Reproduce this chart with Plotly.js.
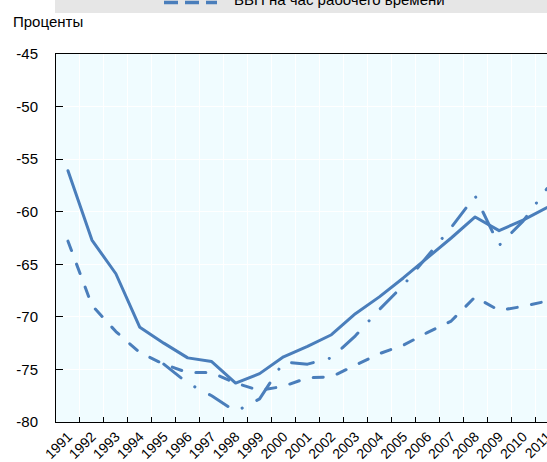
<!DOCTYPE html>
<html>
<head>
<meta charset="utf-8">
<script src="https://cdn.plot.ly/plotly-3.0.1.min.js"></script>
<style>
html,body{margin:0;padding:0;background:#fff;}
#chart{width:547px;height:462px;}
.scatterlayer .js-line{stroke-linecap:round;stroke-linejoin:round;}
</style>
</head>
<body>
<div id="chart"></div>
<script>
const years = ["1991","1992","1993","1994","1995","1996","1997","1998","1999","2000","2001","2002","2003","2004","2005","2006","2007","2008","2009","2010","2011"];
const solidSeries = [-56.1,-62.7,-65.9,-71.0,-72.5,-73.9,-74.25,-76.3,-75.4,-73.8,-72.8,-71.7,-69.7,-68.1,-66.3,-64.4,-62.5,-60.5,-61.8,-60.8,-59.6];
const gdpPerHour = [-62.8,-68.9,-71.4,-73.4,-74.5,-75.3,-75.3,-76.3,-77.0,-76.6,-75.8,-75.7,-74.6,-73.5,-72.7,-71.5,-70.4,-68.1,-69.4,-69.0,-68.5];
const dashDotSeries = [null,null,null,null,-74.5,-76.3,-77.5,-79.0,-77.8,-74.3,-74.5,-73.9,-71.8,-69.3,-67.0,-64.3,-61.5,-58.5,-63.2,-60.9,-57.8];
const legendLabel = "ВВП на час рабочего времени";
const yAxisLabel = "Проценты";
const yTicks = [-80,-75,-70,-65,-60,-55,-50,-45];

const color = "#4a7ebb";
const font = "'Liberation Sans', Arial, sans-serif";

const traces = [
  {x: years, y: solidSeries, type: "scatter", mode: "lines", line: {color: color, width: 3}, showlegend: false},
  {x: years, y: gdpPerHour, type: "scatter", mode: "lines", name: legendLabel, line: {color: color, width: 3, dash: "10px,14.5px"}, showlegend: false},
  {x: years, y: dashDotSeries, type: "scatter", mode: "lines", line: {color: color, width: 3, dash: "22px,16.5px,0.1px,16.5px"}, showlegend: false, connectgaps: false}
];

// plot area: x 56..547 (491px), y 54..422 (368px)
const px = v => (v - 56) / 491;
const py = v => (422 - v) / 368;

const layout = {
  width: 547, height: 462,
  margin: {l: 56, r: 0, t: 54, b: 40, pad: 0},
  paper_bgcolor: "#ffffff",
  plot_bgcolor: "#f0fcff",
  font: {family: font, size: 15, color: "#000"},
  showlegend: false,
  xaxis: {
    type: "category",
    range: [-0.5, 20.0],
    tickson: "boundaries",
    ticks: "inside", ticklen: 5, tickcolor: "#000", tickwidth: 1,
    showline: true, linecolor: "#000", linewidth: 1, mirror: true,
    showgrid: true, gridcolor: "#ffffff", gridwidth: 1,
    tickangle: -45,
    tickfont: {family: font, size: 14, color: "#000"},
    zeroline: false, fixedrange: true
  },
  yaxis: {
    range: [-80, -45],
    tickvals: yTicks,
    ticktext: yTicks.map(String),
    ticks: "inside", ticklen: 7, tickcolor: "#000", tickwidth: 1,
    showline: true, linecolor: "#000", linewidth: 1,
    showgrid: true, gridcolor: "#ffffff", gridwidth: 1,
    zeroline: false,
    tickfont: {family: font, size: 15, color: "#000"},
    ticklabelstandoff: 14,
    fixedrange: true
  },
  shapes: [
    {type: "rect", xref: "paper", yref: "paper", x0: px(55), x1: px(560), y0: py(13), y1: py(-20), fillcolor: "#e6e6e6", line: {width: 0}, layer: "below"},
    {type: "line", xref: "paper", yref: "paper", x0: px(164), x1: px(217), y0: py(2.5), y1: py(2.5), line: {color: color, width: 3.5, dash: "14px,7px"}}
  ],
  annotations: [
    {text: yAxisLabel, xref: "paper", yref: "paper", x: px(11), y: py(21), xanchor: "left", yanchor: "middle", showarrow: false, font: {family: font, size: 15, color: "#000"}},
    {text: legendLabel, xref: "paper", yref: "paper", x: px(232), y: py(-0.5), xanchor: "left", yanchor: "middle", showarrow: false, font: {family: font, size: 15, color: "#000"}}
  ]
};

Plotly.newPlot("chart", traces, layout, {displayModeBar: false, staticPlot: true});
</script>
</body>
</html>
